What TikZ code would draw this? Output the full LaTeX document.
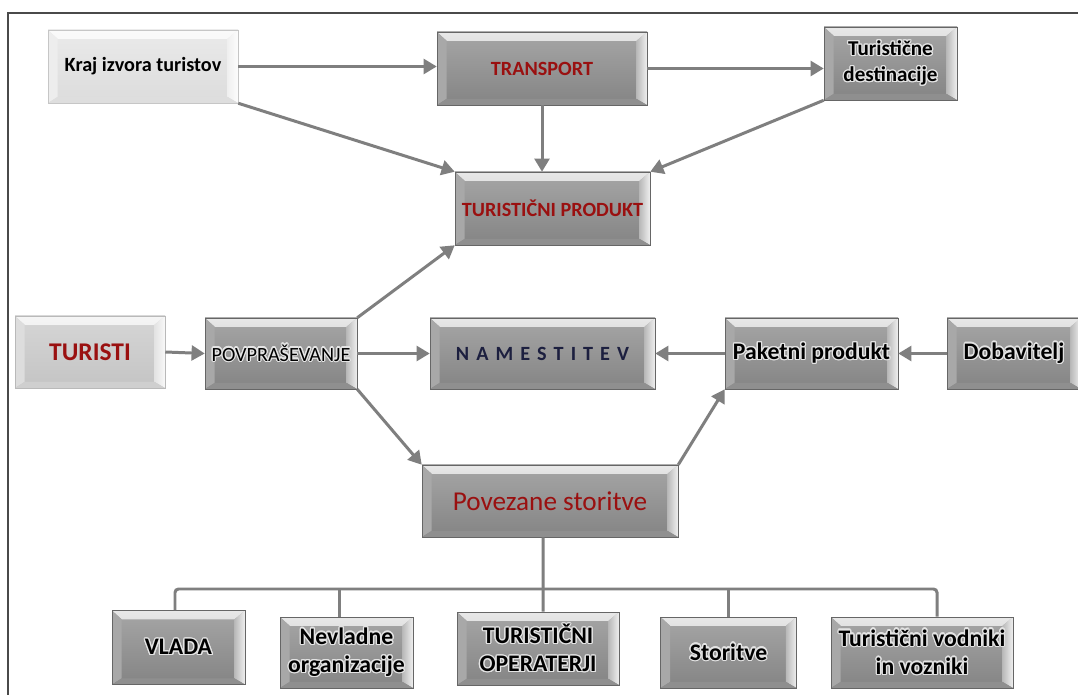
\documentclass[tikz,border=0pt]{standalone}
\usepackage{fontspec}
\setmainfont{Carlito}
\usepackage{contour}
\contourlength{0.7pt}
\contournumber{16}
\usetikzlibrary{arrows.meta,calc}

\definecolor{linegray}{HTML}{7F7F7F}
\definecolor{framegray}{HTML}{4A4A4A}
\definecolor{txtred}{HTML}{9A1010}
\definecolor{txtnavy}{HTML}{1C1F3F}
\definecolor{halo}{HTML}{E4E4E4}

% bevel bands: #1 top-band outer, #2 top-band inner, #3 left, #4 right, #5 bottom
\newcommand\bevelbands[5]{%
  \shade[top color=#1,bottom color=#2]
    let \p1=(path picture bounding box.south west),
        \p2=(path picture bounding box.north east) in
    (\x1,\y2) -- (\x2,\y2) -- (\x2-6pt,\y2-5pt) -- (\x1+5.5pt,\y2-5pt) -- cycle;
  \fill[#3]
    let \p1=(path picture bounding box.south west),
        \p2=(path picture bounding box.north east) in
    (\x1,\y2) -- (\x1+5.5pt,\y2-5pt) -- (\x1+5.5pt,\y1+3.5pt) -- (\x1,\y1) -- cycle;
  \shade[left color=#2,right color=#4]
    let \p1=(path picture bounding box.south west),
        \p2=(path picture bounding box.north east) in
    (\x2,\y2) -- (\x2-6pt,\y2-5pt) -- (\x2-6pt,\y1+3.5pt) -- (\x2,\y1) -- cycle;
  \fill[#5]
    let \p1=(path picture bounding box.south west),
        \p2=(path picture bounding box.north east) in
    (\x1,\y1) -- (\x1+5.5pt,\y1+3.5pt) -- (\x2-6pt,\y1+3.5pt) -- (\x2,\y1) -- cycle;
}
% label with a soft light halo
\newcommand\glow[1]{\contour{halo}{#1}}

\tikzset{
  sz/.style 2 args={minimum width=#1*0.02cm, minimum height=#2*0.02cm},
  basebox/.style={rectangle, inner sep=0pt, align=center,
    draw=gray!80!black, line width=0.3pt},
  darkbox/.style={basebox, top color={rgb,255:red,166;green,166;blue,166},
    bottom color={rgb,255:red,132;green,132;blue,132},
    path picture={\bevelbands{gray!18}{gray!55}{gray!68}{gray!12}{gray!88}}},
  lightbox/.style={basebox, draw=gray!45,
    top color={rgb,255:red,234;green,234;blue,234},
    bottom color={rgb,255:red,220;green,220;blue,220},
    path picture={\bevelbands{gray!4}{gray!12}{gray!14}{gray!2}{gray!26}}},
  midbox/.style={basebox, draw=gray!55,
    top color={rgb,255:red,214;green,214;blue,214},
    bottom color={rgb,255:red,196;green,196;blue,196},
    path picture={\bevelbands{gray!8}{gray!22}{gray!27}{gray!5}{gray!38}}},
  conn/.style={draw=linegray, line width=1.7pt,
    -{Triangle[length=7.5pt,width=8.5pt]}},
  tree/.style={draw=linegray, line width=1.7pt, rounded corners=2pt},
  bt/.style={font=\fontsize{13.5}{16}\selectfont\bfseries},
}

\begin{document}
\begin{tikzpicture}[x=0.02cm,y=-0.02cm]
\useasboundingbox (0,0) rectangle (1078,695);
\fill[white] (0,0) rectangle (1078,695);

% outer frame (top and left edges)
\draw[framegray, line width=1.1pt] (8,695) -- (8,13) -- (1078,13);

% top row
\node[lightbox, sz={190}{73}, font=\fontsize{11.5}{13}\selectfont\bfseries]
  (kraj) at (143,66.5) {\glow{Kraj izvora turistov}};
\node[darkbox, sz={210}{73}, font=\fontsize{11.5}{13}\selectfont\bfseries, text=txtred]
  (transport) at (542,68.5) {TRANSPORT};
\node[darkbox, sz={133}{73}, font=\fontsize{12}{15}\selectfont\bfseries]
  (dest) at (890.5,63.5) {\glow{Turistične}\\\glow{destinacije}};
\node[darkbox, sz={195}{73}, font=\fontsize{11.5}{13}\selectfont\bfseries, text=txtred]
  (tp) at (552.5,208.5) {TURISTIČNI PRODUKT};

% middle row
\node[midbox, sz={150}{72}, font=\fontsize{14.5}{16}\selectfont\bfseries, text=txtred]
  (turisti) at (90,352) {TURISTI};
\node[darkbox, sz={152}{71}, font=\fontsize{11.5}{13}\selectfont]
  (povpr) at (281,353.5) {\glow{POVPRAŠEVANJE}};
\node[darkbox, sz={225}{71}, font=\fontsize{11.5}{13}\selectfont\bfseries, text=txtnavy]
  (namest) at (542.5,353.5)
  {N\kern4pt A\kern4pt M\kern4pt E\kern4pt S\kern4pt T\kern4pt I\kern4pt T\kern4pt E\kern4pt V};
\node[darkbox, sz={173}{71}, font=\fontsize{13.5}{15}\selectfont\bfseries]
  (paketni) at (811.5,353.5) {\glow{Paketni produkt}};
\node[darkbox, sz={134}{71}, font=\fontsize{13.5}{15}\selectfont\bfseries]
  (dobav) at (1014,353.5) {\glow{Dobavitelj}};

\node[darkbox, sz={256}{72}, font=\fontsize{15.5}{17}\selectfont, text=txtred]
  (povezane) at (550,501) {Povezane storitve};

% bottom row
\node[darkbox, sz={133}{74}, bt] (vlada) at (178.5,647.5) {\glow{VLADA}};
\node[darkbox, sz={133}{71}, bt] (nevlad) at (346.5,652.5)
  {\glow{Nevladne}\\\glow{organizacije}};
\node[darkbox, sz={162}{73}, bt] (turop) at (538,648.5)
  {\glow{TURISTIČNI}\\\glow{OPERATERJI}};
\node[darkbox, sz={136}{71}, bt] (storitve) at (728.5,652.5) {\glow{Storitve}};
\node[darkbox, sz={182}{71}, bt] (vodniki) at (922,652.5)
  {\glow{Turistični vodniki}\\\glow{in vozniki}};

% arrows
\draw[conn] (kraj.east) -- (kraj.east -| transport.west);
\draw[conn] (transport.east) -- (transport.east -| dest.west);
\draw[conn] (kraj.south east) -- (tp.north west);
\draw[conn] (transport.south) -- (transport.south |- tp.north);
\draw[conn] (dest.south west) -- (tp.north east);
\draw[conn] (povpr.north east) -- (tp.south west);
\draw[conn] (turisti.east) -- (povpr.west);
\draw[conn] (povpr.east) -- (namest.west);
\draw[conn] (paketni.west) -- (namest.east);
\draw[conn] (dobav.west) -- (paketni.east);
\draw[conn] (povpr.south east) -- (povezane.north west);
\draw[conn] (povezane.north east) -- (paketni.south west);

% branches below the related services
\coordinate (bus) at (543,589);
\draw[tree] ([xshift=-0.14cm]povezane.south) -- ([xshift=0.1cm]turop.north);
\draw[tree] ([xshift=-0.07cm]vlada.north) |- (bus);
\draw[tree] ([xshift=0.3cm]vodniki.north) |- (bus);
\draw[tree] ([xshift=-0.15cm]nevlad.north) -- ([xshift=-0.15cm]nevlad.north |- bus);
\draw[tree] (storitve.north) -- (storitve.north |- bus);
\end{tikzpicture}
\end{document}
